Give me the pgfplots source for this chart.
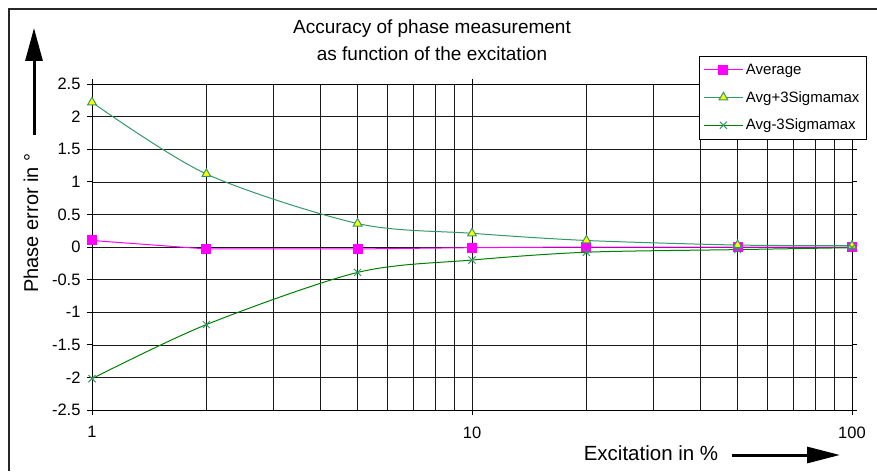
\documentclass[border=0pt]{standalone}
\usepackage{fontspec}
\setmainfont{Liberation Sans}
\usepackage{pgfplots}
\pgfplotsset{compat=1.18}
\usetikzlibrary{arrows.meta}
\definecolor{seagreen}{RGB}{51,153,102}
\definecolor{dgreen}{RGB}{0,128,0}
\definecolor{mag}{RGB}{255,0,255}
\definecolor{yel}{RGB}{255,255,0}
\begin{document}
\begin{tikzpicture}[x=1pt,y=1pt]
\useasboundingbox (0,0) rectangle (877,471);
\draw[line width=1.5pt, black!85] (9,0) -- (9,462) -- (877,462);
\begin{axis}[
 at={(92pt,61pt)}, anchor=south west,
 scale only axis, width=760pt, height=326pt,
 xmode=log, log basis x=10, xmin=1, xmax=100, ymin=-2.5, ymax=2.5,
 xtick={1,10,100}, xticklabels={1,10,100},
 minor xtick={2,3,4,5,6,7,8,9,20,30,40,50,60,70,80,90},
 ytick={-2.5,-2,-1.5,-1,-0.5,0,0.5,1,1.5,2,2.5},
 yticklabels={-2.5,-2,-1.5,-1,-0.5,0,0.5,1,1.5,2,2.5},
 grid=both,
 major grid style={black!90, line width=0.6pt},
 minor grid style={black!90, line width=0.6pt},
 tick align=outside,
 major tick length=5pt, minor tick length=0pt,
 tick style={black, line width=0.8pt},
 axis line style={black, line width=0.8pt},
 ticklabel style={font=\fontsize{16.5}{19}\selectfont},
 xticklabel style={yshift=-8pt},
 yticklabel style={xshift=-3pt},
 /pgf/number format/assume math mode=true,
 legend cell align=left,
 legend image code/.code={\draw[mark repeat=2,mark phase=2,#1] plot coordinates {(0pt,0pt)(19.5pt,0pt)(39pt,0pt)};},
 legend style={at={(0.7987,1.086)}, anchor=north west, draw=black, line width=0.8pt, fill=white,
   font=\fontsize{15}{18}\selectfont, row sep=10.5pt, inner xsep=4pt, inner ysep=5pt,
   nodes={inner sep=2.5pt}},
]
\addplot[mag, line width=1pt, mark=square*, mark size=4.5pt, mark options={fill=mag, draw=mag, solid}]
 coordinates {(1,0.10)(2,-0.03)(5,-0.03)(10,-0.01)(20,0)(50,0)(100,0)};
\addlegendentry{Average}
\addplot[seagreen, line width=1pt, smooth, mark=triangle*, mark size=5pt, mark options={fill=yel, draw=seagreen, solid}]
 coordinates {(1,2.22)(2,1.12)(5,0.36)(10,0.21)(20,0.10)(50,0.03)(100,0.02)};
\addlegendentry{Avg+3Sigmamax}
\addplot[dgreen, line width=1pt, smooth, mark=x, mark size=5pt, mark options={draw=seagreen, solid}]
 coordinates {(1,-2.02)(2,-1.19)(5,-0.39)(10,-0.20)(20,-0.08)(50,-0.04)(100,-0.01)};
\addlegendentry{Avg-3Sigmamax}
\end{axis}
\node[align=center, font=\fontsize{19}{27}\selectfont] at (432,431) {Accuracy of phase measurement\\as function of the excitation};
\node[rotate=90, font=\fontsize{20}{24}\selectfont] at (31,248) {Phase error in °};
\draw[line width=3pt, -{Triangle[length=33pt,width=17pt]}] (34,336) -- (34,443);
\node[font=\fontsize{20.5}{24}\selectfont] at (651,18) {Excitation in \%};
\draw[line width=3pt, -{Triangle[length=33pt,width=16pt]}] (732,16) -- (840,16);
\end{tikzpicture}
\end{document}
